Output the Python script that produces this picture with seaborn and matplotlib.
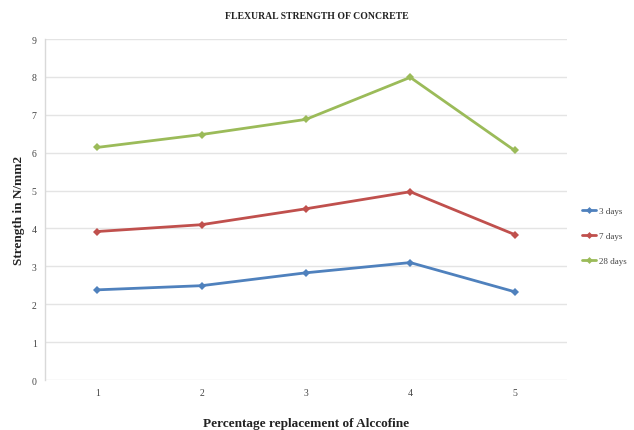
import numpy as np
import pandas as pd
import matplotlib
matplotlib.use("Agg")
import matplotlib.pyplot as plt
import seaborn as sns

# Percentage replacement of Alccofine (x) and flexural strength (N/mm2) at each curing age
replacement = [1, 2, 3, 4, 5]
days_3 = [2.38, 2.49, 2.83, 3.10, 2.33]
days_7 = [3.92, 4.10, 4.52, 4.97, 3.84]
days_28 = [6.14, 6.48, 6.88, 7.99, 6.06]
series_names = ["3 days", "7 days", "28 days"]
y_ticks = list(range(0, 10))

df = pd.DataFrame({
    "x": replacement * 3,
    "strength": days_3 + days_7 + days_28,
    "age": [series_names[0]] * 5 + [series_names[1]] * 5 + [series_names[2]] * 5,
})

sns.set_theme(style="white")
plt.rcParams["font.family"] = ["Liberation Serif", "DejaVu Serif"]

fig = plt.figure(figsize=(6.34, 4.31), dpi=100)
ax = fig.add_axes([0.071, 0.116, 0.823, 0.791])

palette = {"3 days": "#4F81BD", "7 days": "#C0504D", "28 days": "#9BBB59"}
sns.lineplot(data=df, x="x", y="strength", hue="age", palette=palette,
             marker="D", markersize=4, markeredgewidth=0, linewidth=2.0,
             ax=ax, legend=False)

ax.set_xlim(0.5, 5.5)
ax.set_ylim(0, 9)
ax.set_yticks(y_ticks)
ax.set_xticks(replacement)
ax.yaxis.grid(True, color="#e4e4e4", linewidth=1.0)
ax.set_axisbelow(True)
for side in ["top", "right", "bottom"]:
    ax.spines[side].set_visible(False)
ax.spines["left"].set_color("#d9d9d9")
ax.spines["left"].set_linewidth(1.0)
ax.tick_params(axis="both", length=0, labelsize=7, labelcolor="#444444", pad=6)

ax.set_xlabel("Percentage replacement of Alccofine", fontsize=9.5, fontweight="bold",
              color="#222222", labelpad=14)
ax.set_ylabel("Strength in N/mm2", fontsize=9.5, fontweight="bold",
              color="#222222", labelpad=5)
fig.text(0.5, 0.962, "FLEXURAL STRENGTH OF CONCRETE", ha="center", va="center",
         fontsize=7, fontweight="bold", color="#222222")

handles = [plt.Line2D([], [], color=palette[n], marker="D", markersize=3.5,
                      markeredgewidth=0, linewidth=2.0) for n in series_names]
fig.legend(handles, series_names, loc="center left", bbox_to_anchor=(0.905, 0.45),
           frameon=False, fontsize=6.5, handlelength=1.6, handletextpad=0.3,
           labelspacing=1.85, labelcolor="#444444")

fig.savefig("out.png", dpi=100)
